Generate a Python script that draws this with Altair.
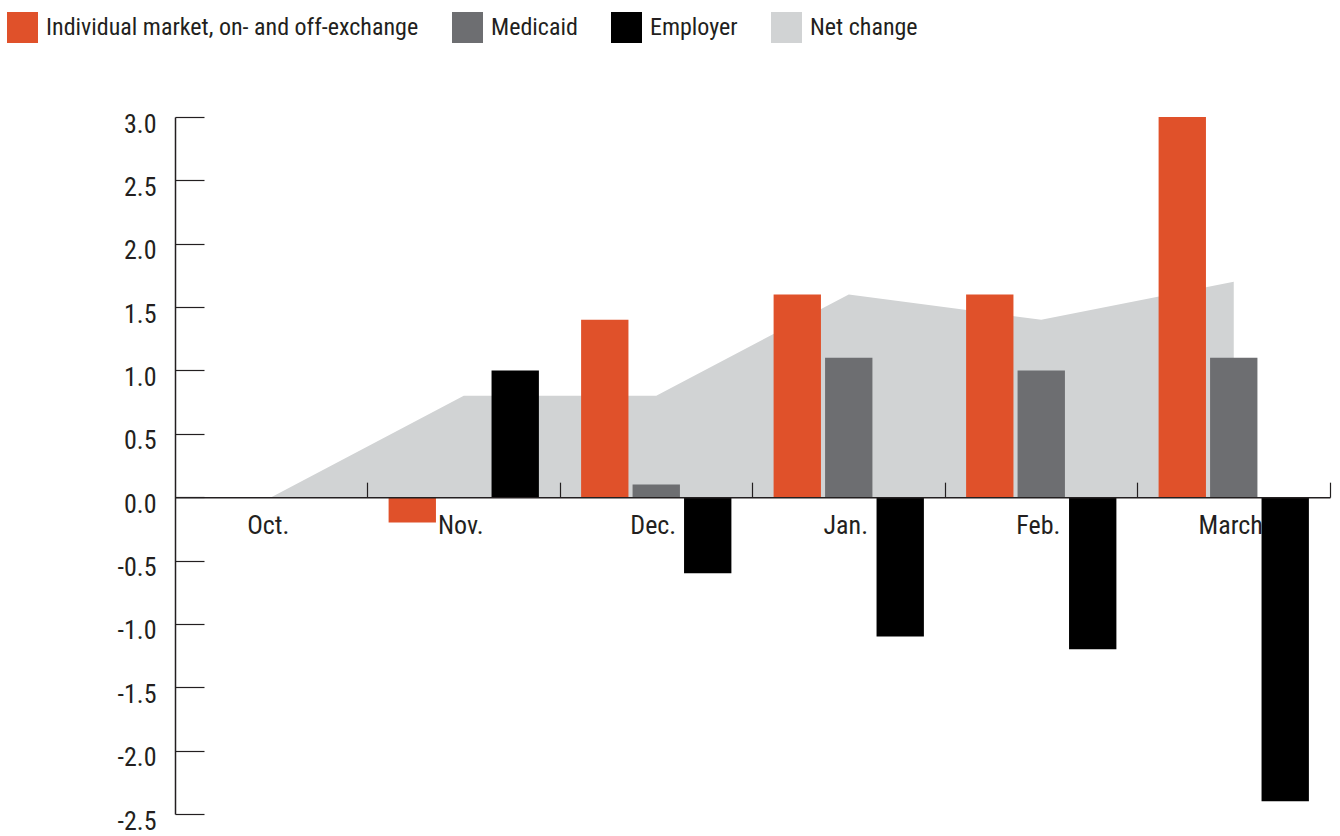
import altair as alt
import pandas as pd

# ---- data ----
months = ["Oct.", "Nov.", "Dec.", "Jan.", "Feb.", "March"]
individual = [0.0, -0.2, 1.4, 1.6, 1.6, 3.0]
medicaid = [0.0, 0.0, 0.1, 1.1, 1.0, 1.1]
employer = [0.0, 1.0, -0.6, -1.1, -1.2, -2.4]
net_change = [0.0, 0.8, 0.8, 1.6, 1.4, 1.7]

series_names = ["Individual market, on- and off-exchange", "Medicaid", "Employer", "Net change"]
series_colors = ["#E0512A", "#6D6E71", "#000000", "#D1D3D4"]
y_ticks = [3.0, 2.5, 2.0, 1.5, 1.0, 0.5, 0.0, -0.5, -1.0, -1.5, -2.0, -2.5]
y_domain = [-2.5, 3.0]

bar_rows = []
for i, m in enumerate(months):
    bar_rows.append({"month": m, "series": series_names[0], "value": individual[i]})
    bar_rows.append({"month": m, "series": series_names[1], "value": medicaid[i]})
    bar_rows.append({"month": m, "series": series_names[2], "value": employer[i]})
bars_df = pd.DataFrame(bar_rows)
net_df = pd.DataFrame({"month": months, "value": net_change, "series": "Net change"})
label_df = pd.DataFrame({"month": months})

# ---- layout / style ----
W, H = 1155, 697
zero_px = H * (y_domain[1] - 0) / (y_domain[1] - y_domain[0])
FONT = "Liberation Sans Narrow, Roboto Condensed, DejaVu Sans Condensed, sans-serif"
INK = "#231F20"

x_enc = alt.X(
    "month:N",
    sort=months,
    scale=alt.Scale(paddingInner=0, paddingOuter=0),
    axis=alt.Axis(
        orient="top", offset=-zero_px, title=None, labels=False,
        tickSize=15, tickWidth=1.2, tickColor=INK, bandPosition=1,
        domainColor=INK, domainWidth=1.5, zindex=1,
    ),
)

y_scale = alt.Scale(domain=y_domain, nice=False, zero=False)
y_axis = alt.Axis(
    orient="right", offset=-W, values=y_ticks, title=None, grid=False,
    tickSize=29, tickWidth=1.2, tickColor=INK, domainColor=INK, domainWidth=1.5,
    labelAlign="right", labelPadding=-48, labelBaseline="top", labelOffset=-6,
    labelFlush=False, labelOverlap=False, zindex=1,
    labelExpr="replace(format(datum.value, '.1f'), '\u2212', '-')",
)
y_enc = alt.Y("value:Q", stack=None, scale=y_scale, axis=y_axis)

legend = alt.Legend(
    orient="none", legendX=-168, legendY=-105, direction="horizontal", title=None,
    symbolType="square", symbolSize=960, symbolStrokeWidth=0, symbolOpacity=1,
    labelFont=FONT, labelFontSize=24, labelColor=INK, labelOffset=8,
    columnPadding=33, labelLimit=0, padding=0,
)
color_enc = alt.Color("series:N", scale=alt.Scale(domain=series_names, range=series_colors), legend=legend)

area = alt.Chart(net_df).mark_area(opacity=1).encode(x=x_enc, y=y_enc, color=color_enc)

bars = alt.Chart(bars_df).mark_bar(opacity=1).encode(
    x=x_enc,
    xOffset=alt.XOffset("series:N", scale=alt.Scale(domain=series_names[:3], paddingInner=0.08, paddingOuter=0.41)),
    y=y_enc,
    color=color_enc,
)

labels = alt.Chart(label_df).mark_text(
    font=FONT, fontSize=26, color=INK, dy=29, dx=-3, baseline="middle", align="center"
).encode(x=x_enc, y=alt.Y(datum=0, scale=y_scale, axis=y_axis), text="month:N")

chart = (
    alt.layer(area, bars, labels)
    .properties(
        width=W, height=H,
        autosize=alt.AutoSizeParams(type="none"),
        padding={"left": 175, "top": 117, "right": 10, "bottom": 22},
        background="white",
    )
    .configure_view(stroke=None)
    .configure_axis(labelFont=FONT, labelFontSize=26, labelColor=INK)
)

chart.save("out.html", embed_options={"renderer": "svg", "actions": False})
